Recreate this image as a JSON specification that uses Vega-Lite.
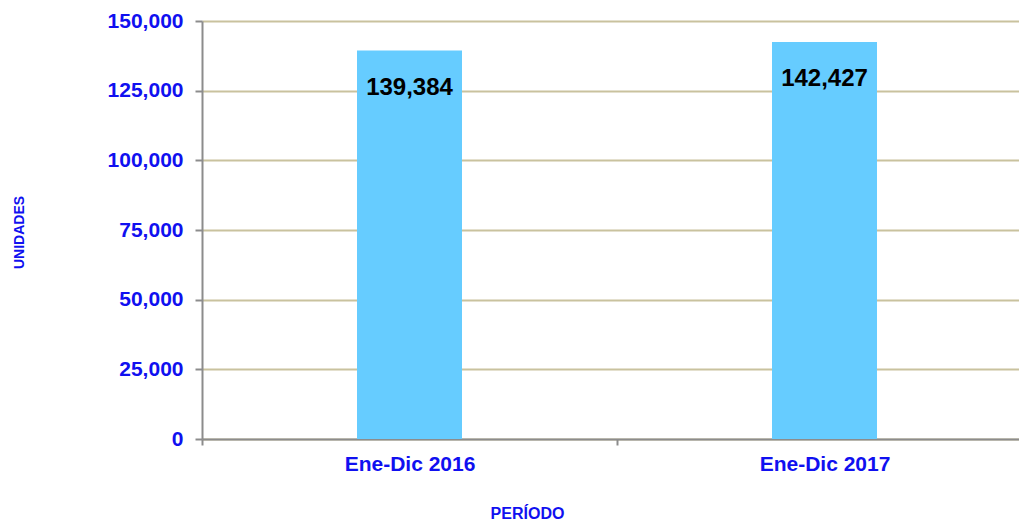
{
  "$schema": "https://vega.github.io/schema/vega-lite/v6.json",
  "width": 817,
  "height": 418,
  "autosize": {"type": "none"},
  "padding": {"left": 202, "top": 21, "right": 0, "bottom": 81},
  "background": "#FFFFFF",
  "config": {
    "font": "Liberation Sans",
    "view": {"stroke": null}
  },
  "data": {
    "values": [
      {"periodo": "Ene-Dic 2016", "unidades": 139384},
      {"periodo": "Ene-Dic 2017", "unidades": 142427}
    ]
  },
  "encoding": {
    "x": {
      "field": "periodo",
      "type": "nominal",
      "sort": null,
      "scale": {"range": [0, 830], "paddingInner": 0, "paddingOuter": 0},
      "axis": {
        "title": "PERÍODO",
        "titleFont": "Liberation Sans",
        "titleFontSize": 16,
        "titleFontWeight": "bold",
        "titleColor": "#1010F0",
        "titleX": 325,
        "titleY": 74,
        "titleAnchor": null,
        "titleAlign": "center",
        "titleBaseline": "middle",
        "labelAngle": 0,
        "labelFontSize": 21,
        "labelFontWeight": "bold",
        "labelColor": "#1010F0",
        "labelPadding": 8,
        "tickBand": "extent",
        "tickSize": 6,
        "tickColor": "#8C8C8C",
        "tickWidth": 2,
        "domainColor": "#8C8C8C",
        "domainWidth": 2,
        "grid": false
      }
    },
    "y": {
      "field": "unidades",
      "type": "quantitative",
      "scale": {"domain": [0, 150000], "nice": false},
      "axis": {
        "title": "UNIDADES",
        "titleFont": "Liberation Sans",
        "titleFontSize": 14,
        "titleFontWeight": "bold",
        "titleColor": "#1010F0",
        "titleAngle": -90,
        "titleX": -183,
        "titleY": 211,
        "titleAlign": "center",
        "titleBaseline": "middle",
        "values": [0, 25000, 50000, 75000, 100000, 125000, 150000],
        "format": ",.0f",
        "labelFontSize": 21,
        "labelFontWeight": "bold",
        "labelColor": "#1010F0",
        "labelPadding": 12,
        "tickSize": 7,
        "tickColor": "#8C8C8C",
        "tickWidth": 2,
        "domainColor": "#8C8C8C",
        "domainWidth": 2,
        "grid": true,
        "gridColor": "#C9C29E",
        "gridWidth": 2
      }
    }
  },
  "layer": [
    {
      "mark": {"type": "bar", "size": 105, "color": "#66CCFF"}
    },
    {
      "mark": {
        "type": "text",
        "baseline": "top",
        "dy": 25,
        "fontSize": 24,
        "fontWeight": "bold",
        "color": "#000000"
      },
      "encoding": {
        "text": {"field": "unidades", "type": "quantitative", "format": ",.0f"}
      }
    }
  ]
}
